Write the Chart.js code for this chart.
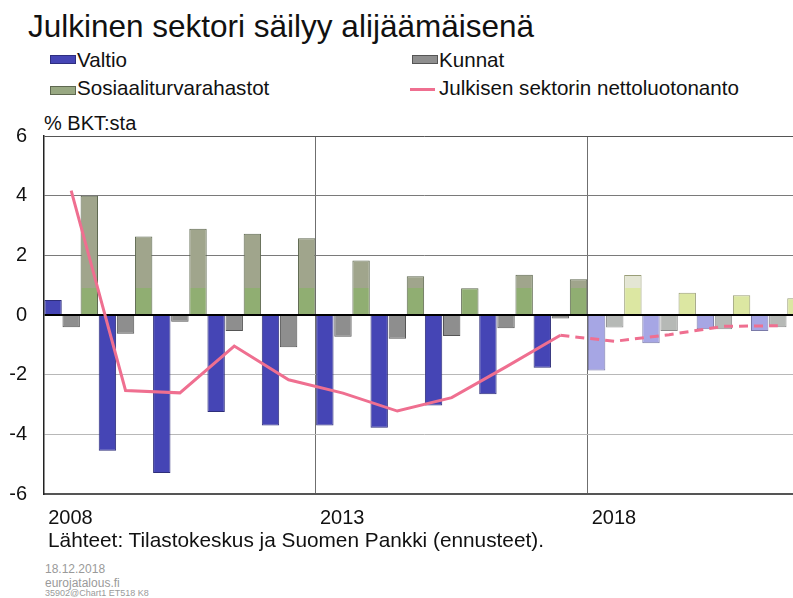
<!DOCTYPE html>
<html>
<head>
<meta charset="utf-8">
<script src="https://cdn.jsdelivr.net/npm/chart.js@4/dist/chart.umd.min.js"></script>
<style>
  html, body { margin: 0; padding: 0; width: 793px; height: 598px; overflow: hidden; background: #fff; }
  body { position: relative; font-family: "Liberation Sans", Arial, sans-serif; color: #111; }
  .t { position: absolute; white-space: nowrap; line-height: 1; }
  #title { left: 28px; top: 11px; font-size: 31.5px; }
  .leg { font-size: 20.6px; }
  .box { position: absolute; width: 24px; height: 7px; border: 1px solid #333; }
  .ln { position: absolute; width: 25px; height: 3px; }
  #unit { left: 44px; top: 113px; font-size: 20px; }
  #src { left: 48px; top: 530px; font-size: 20.8px; }
  .foot { color: #9a9a9a; }
  canvas { position: absolute; left: 0; top: 120px; }
</style>
</head>
<body>
<div class="t" id="title">Julkinen sektori säilyy alijäämäisenä</div>

<div class="box" style="left:50px;top:55px;background:#4545b5;border-color:#2e2e80"></div>
<div class="t leg" style="left:77px;top:50px">Valtio</div>
<div class="box" style="left:412px;top:55px;background:#8e8e8e;border-color:#555"></div>
<div class="t leg" style="left:439px;top:50px">Kunnat</div>
<div class="box" style="left:50px;top:86px;background:#98a882;border-color:#5e6850"></div>
<div class="t leg" style="left:77px;top:78px">Sosiaaliturvarahastot</div>
<div class="ln" style="left:410px;top:88px;background:#ef6f90"></div>
<div class="t leg" style="left:439px;top:78px">Julkisen sektorin nettoluotonanto</div>

<div class="t" id="unit">% BKT:sta</div>

<canvas id="c" width="805" height="420"></canvas>

<div class="t" id="src">Lähteet: Tilastokeskus ja Suomen Pankki (ennusteet).</div>
<div class="t foot" style="left:45px;top:563px;font-size:12px">18.12.2018</div>
<div class="t foot" style="left:45px;top:577px;font-size:12px">eurojatalous.fi</div>
<div class="t foot" style="left:45px;top:589px;font-size:9px">35902@Chart1 ET518 K8</div>

<script>
// ---- data ----
const years = [2008, 2009, 2010, 2011, 2012, 2013, 2014, 2015, 2016, 2017, 2018, 2019, 2020, 2021];
const valtio = [0.5, -4.55, -5.3, -3.25, -3.7, -3.7, -3.78, -3.03, -2.66, -1.77, -1.86, -0.95, -0.48, -0.54];
const kunnat = [-0.41, -0.63, -0.23, -0.54, -1.08, -0.73, -0.8, -0.7, -0.44, -0.12, -0.42, -0.54, -0.48, -0.41];
const sosiaali = [4.0, 2.63, 2.89, 2.72, 2.57, 1.83, 1.3, 0.9, 1.35, 1.2, 1.34, 0.75, 0.66, 0.56];
const netto = [4.17, -2.53, -2.61, -1.04, -2.17, -2.62, -3.22, -2.77, -1.74, -0.68, -0.88, -0.66, -0.38, -0.36];
const seriesNames = ['Valtio', 'Kunnat', 'Sosiaaliturvarahastot', 'Julkisen sektorin nettoluotonanto'];
const firstForecastYear = 2018;
const labelEvery = 5;
const yTicks = [-6, -4, -2, 0, 2, 4, 6];

// ---- styles ----
const isFc = (i) => years[i] >= firstForecastYear;
const fcIndex = years.indexOf(firstForecastYear);
const pick = (hist, fc) => years.map((y, i) => isFc(i) ? fc : hist);

function sosFill(ctx) {
  const chart = ctx.chart;
  const fc = isFc(ctx.dataIndex);
  const low = fc ? '#dce7a2' : '#90ae72';
  const high = fc ? '#e4e6d4' : '#a0a58c';
  if (!chart.chartArea) return low;
  const ys = chart.scales.y;
  const p0 = ys.getPixelForValue(0), p1 = ys.getPixelForValue(6);
  const g = chart.ctx.createLinearGradient(0, p0, 0, p1);
  const f = 0.9 / 6;
  g.addColorStop(0, low); g.addColorStop(f, low);
  g.addColorStop(f + 0.002, high); g.addColorStop(1, high);
  return g;
}

const font = { family: '"Liberation Sans", Arial, sans-serif', size: 20 };
const targetTop = 16; // chart area top within canvas

const chart = new Chart(document.getElementById('c'), {
  type: 'bar',
  data: {
    labels: years.map(String),
    datasets: [
      {
        type: 'line', label: seriesNames[3], data: netto, order: 0,
        borderColor: '#ef6f90', borderWidth: 3, pointRadius: 0, tension: 0, fill: false,
        segment: { borderDash: (c) => c.p0DataIndex >= fcIndex - 1 ? [9, 6] : undefined }
      },
      {
        label: seriesNames[0], data: valtio, order: 1,
        backgroundColor: pick('#4545b5', '#a6a6e4'), borderColor: pick('#2e2e7a', '#7a7aa8'), borderWidth: 1
      },
      {
        label: seriesNames[1], data: kunnat, order: 1,
        backgroundColor: pick('#8e8e8e', '#b6b9b6'), borderColor: pick('#555555', '#8a8a8a'), borderWidth: 1
      },
      {
        label: seriesNames[2], data: sosiaali, order: 1,
        backgroundColor: sosFill, borderColor: pick('#5e6850', '#9a9e78'), borderWidth: 1
      }
    ]
  },
  options: {
    responsive: false,
    animation: false,
    events: [],
    layout: { padding: { top: targetTop, left: 0, right: 0, bottom: 0 } },
    datasets: { bar: { categoryPercentage: 1.0, barPercentage: 0.96 } },
    plugins: { legend: { display: false }, tooltip: { enabled: false }, title: { display: false } },
    scales: {
      x: {
        offset: true,
        afterFit: (s) => { s.height = 46; s.paddingLeft = 0; s.paddingRight = 0; },
        grid: {
          offset: true, drawTicks: false,
          color: (c) => (c.index === labelEvery || c.index === 2 * labelEvery) ? '#6f6f6f' : 'rgba(0,0,0,0)',
          lineWidth: 1
        },
        border: { display: true, color: '#555', width: 2 },
        ticks: {
          autoSkip: false, maxRotation: 0, align: 'start', labelOffset: -23, padding: 12,
          color: '#111', font,
          callback: (v, i) => (i % labelEvery === 0 ? years[i] : '')
        }
      },
      y: {
        min: -6, max: 6,
        afterFit: (s) => { s.width = 44; s.paddingTop = 0; s.paddingBottom = 0; },
        afterBuildTicks: (s) => { s.ticks = yTicks.map(v => ({ value: v })); },
        grid: {
          drawTicks: false,
          color: (c) => {
            const v = c.tick.value;
            if (v === 0) return '#000';
            if (v === 6) return '#555';
            return v > 0 ? '#7a7a7a' : '#b8b8b8';
          },
          lineWidth: (c) => (c.tick.value === 0 ? 2 : 1)
        },
        border: { display: true, color: '#222', width: 1.5 },
        ticks: { padding: 17, color: '#111', font }
      }
    }
  }
});

// correct any extra layout offset so the plot top lands where intended
const extra = chart.chartArea.top - targetTop;
if (Math.abs(extra) > 0.5) {
  chart.options.layout.padding.top = Math.max(0, targetTop - extra);
  chart.update();
}
</script>
</body>
</html>
